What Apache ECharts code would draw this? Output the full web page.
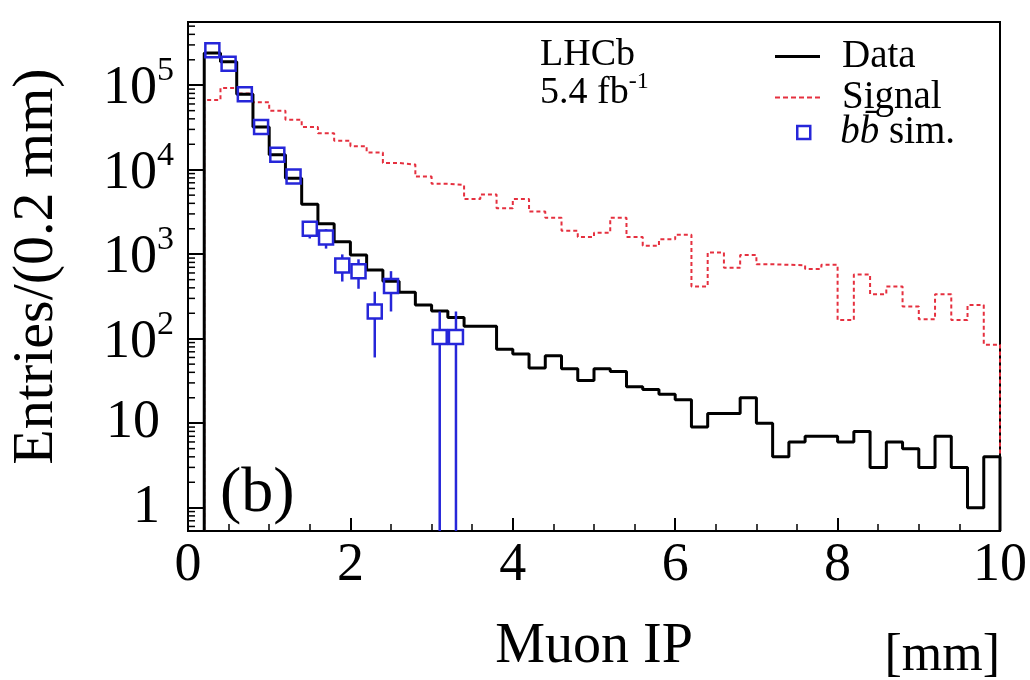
<!DOCTYPE html>
<html><head><meta charset="utf-8">
<script src="https://cdn.jsdelivr.net/npm/echarts@6/dist/echarts.min.js"></script>
<style>html,body{margin:0;padding:0;background:#fff}#c{width:1030px;height:680px}</style>
</head><body><div id="c"></div>
<script>
// ---- binning ----
const firstEdge = 0.2;
const binWidth = 0.2;
const lastEdge = 10;

// ---- data histogram (Entries per 0.2 mm), bins starting at 0.2 mm ----
const dataCounts = [
  240000, 190000, 78000, 32000, 15000, 7900, 3900, 2300, 1400, 980,
  650, 480, 355, 250, 213, 178, 140, 140, 75, 66,
  45, 63, 44, 32, 44, 41, 27, 25, 22, 19,
  9, 13, 13, 20, 10, 4, 6, 7, 7, 6,
  8, 3, 6, 5, 3, 7, 3, 1, 4
];

// ---- signal histogram (red dotted) ----
const signalCounts = [
  67000, 93000, 80000, 63000, 50000, 39000, 32000, 27000, 22000, 19000,
  16000, 12000, 11500, 8300, 6800, 6600, 4500, 5100, 3500, 4500,
  3200, 2700, 1900, 1600, 1800, 2700, 1600, 1260, 1500, 1700,
  415, 1050, 690, 980, 760, 750, 740, 670, 750, 166,
  575, 337, 415, 240, 170, 337, 166, 250, 85
];

// ---- bb sim. points ----
const simX   = [0.3, 0.5, 0.7, 0.9, 1.1, 1.3, 1.5, 1.7, 1.9, 2.1, 2.3, 2.5, 3.1, 3.3];
const simY   = [260000, 180000, 78000, 32000, 15000, 8300, 1995, 1575, 735, 630, 210, 420, 105, 105];
const simErr = [5200, 4300, 2900, 1800, 1250, 930, 460, 410, 260, 240, 150, 210, 105, 105];

// ---- axes ----
const xMin = 0, xMax = 10, xStep = 2;
const xTickLabels = ['0', '2', '4', '6', '8', '10'];
const yMin = 0.53, yMax = 560000;
const yTickValues = [1, 10, 100, 1000, 10000, 100000];
const yTickLabels = ['{p|1}', '{p|10}', '{n|10}{s|2}', '{n|10}{s|3}', '{n|10}{s|4}', '{n|10}{s|5}'];
const yMinorTicks = [0.6, 0.7, 0.8, 0.9,
  2, 3, 4, 5, 6, 7, 8, 9,
  20, 30, 40, 50, 60, 70, 80, 90,
  200, 300, 400, 500, 600, 700, 800, 900,
  2000, 3000, 4000, 5000, 6000, 7000, 8000, 9000,
  20000, 30000, 40000, 50000, 60000, 70000, 80000, 90000,
  200000, 300000, 400000, 500000];

const FONT = '"Liberation Serif", "DejaVu Serif", serif';
const BLUE = '#2626d9';
const RED = '#e5303f';
const DASH_ICON = 'path://M0,0h5v2h-5z M8,0h5v2h-5z M16,0h5v2h-5z M24,0h5v2h-5z M32,0h5v2h-5z M40,0h5v2h-5z';

function stepPoints(vals) {
  const pts = [[firstEdge, yMin]];
  for (let i = 0; i < vals.length; i++) {
    const lo = +(firstEdge + i * binWidth).toFixed(4);
    const hi = +(firstEdge + (i + 1) * binWidth).toFixed(4);
    pts.push([lo, vals[i]], [hi, vals[i]]);
  }
  pts.push([lastEdge, yMin]);
  return pts;
}

const simRows = simX.map((x, i) => [x, simY[i], simErr[i]]);

const chart = echarts.init(document.getElementById('c'), null, {renderer: 'canvas'});
chart.setOption({
  animation: false,
  backgroundColor: '#fff',
  grid: {left: 178, right: 24, top: 22, bottom: 112, show: true, borderColor: '#000', borderWidth: 2, backgroundColor: 'transparent'},
  legend: [{
    orient: 'vertical', left: 770, top: 32, itemWidth: 45, itemHeight: 3, itemGap: 2,
    selectedMode: false,
    textStyle: {fontFamily: FONT, fontSize: 39, color: '#000', padding: [0, 0, 0, 17], lineHeight: 36},
    data: [
      {name: 'Data', icon: 'rect', itemStyle: {color: '#000'}},
      {name: 'Signal', icon: DASH_ICON, itemStyle: {color: RED}}
    ]
  }, {
    orient: 'vertical', left: 791, top: 108, itemWidth: 13, itemHeight: 13,
    selectedMode: false,
    textStyle: {fontFamily: FONT, fontSize: 39, color: '#000', padding: [0, 0, 0, 25],
      rich: {i: {fontFamily: FONT, fontSize: 39, fontStyle: 'italic', color: '#000', lineHeight: 36},
             t: {fontFamily: FONT, fontSize: 39, color: '#000', lineHeight: 36}}},
    formatter: () => '{i|bb\u0304}{t| sim.}',
    data: [{name: 'bbsim', icon: 'path://M0,0H10V10H0Z', itemStyle: {color: 'transparent', borderColor: BLUE, borderWidth: 2.5}}]
  }],
  xAxis: {
    type: 'value', min: xMin, max: xMax, interval: xStep,
    axisLine: {show: true, lineStyle: {color: '#000', width: 2}},
    axisTick: {show: true, inside: true, length: 13, lineStyle: {color: '#000', width: 2}},
    minorTick: {show: true, splitNumber: 4, length: 7, lineStyle: {color: '#000', width: 1.5}},
    splitLine: {show: false},
    axisLabel: {fontFamily: FONT, fontSize: 54, color: '#000', margin: 8,
      formatter: v => xTickLabels[Math.round((v - xMin) / xStep)] || ''},
    name: 'Muon IP', nameLocation: 'middle', nameGap: 88,
    nameTextStyle: {fontFamily: FONT, fontSize: 56, color: '#000'}
  },
  yAxis: {
    type: 'log', logBase: 10, min: yMin, max: yMax,
    axisLine: {show: true, lineStyle: {color: '#000', width: 2}},
    axisTick: {show: true, inside: true, length: 15, lineStyle: {color: '#000', width: 2}},
    splitLine: {show: false},
    axisLabel: {
      margin: 14, color: '#000',
      formatter: v => {
        const k = yTickValues.findIndex(t => Math.abs(Math.log10(t) - Math.log10(v)) < 1e-6);
        return k >= 0 ? yTickLabels[k] : '';
      },
      rich: {
        n: {fontFamily: FONT, fontSize: 54, color: '#000', lineHeight: 62, verticalAlign: 'bottom'},
        p: {fontFamily: FONT, fontSize: 54, color: '#000', lineHeight: 62, padding: [0, 14, 0, 0]},
        s: {fontFamily: FONT, fontSize: 34, color: '#000', verticalAlign: 'top', lineHeight: 34}
      }
    },
    name: 'Entries/(0.2 mm)', nameLocation: 'middle', nameGap: 122, nameRotate: 90,
    nameTextStyle: {fontFamily: FONT, fontSize: 58, color: '#000', padding: [0, 0, 0, 20]}
  },
  graphic: [
    {type: 'text', left: 540, top: 36, style: {text: 'LHCb', font: '38px ' + FONT, fill: '#000'}},
    {type: 'text', left: 540, top: 70, style: {
      text: '{a|5.4 fb}{s|-1}', rich: {
        a: {fontFamily: FONT, fontSize: 38, fill: '#000', lineHeight: 42, verticalAlign: 'bottom'},
        s: {fontFamily: FONT, fontSize: 24, fill: '#000', verticalAlign: 'top', lineHeight: 24}}}},
    {type: 'text', left: 220, top: 462, style: {text: '(b)', font: '64px ' + FONT, fill: '#000'}},
    {type: 'text', right: 30, top: 630, style: {text: '[mm]', font: '52px ' + FONT, fill: '#000'}}
  ],
  series: [
    {
      name: 'Signal', type: 'line', data: stepPoints(signalCounts), symbol: 'none', showSymbol: false,
      lineStyle: {color: RED, width: 2, type: [4, 3]}, itemStyle: {color: RED}, z: 3
    },
    {
      name: 'Data', type: 'line', data: stepPoints(dataCounts), symbol: 'none', showSymbol: false,
      lineStyle: {color: '#000', width: 3}, itemStyle: {color: '#000'}, z: 4
    },
    {
      name: 'minorY', type: 'custom', silent: true, z: 2,
      data: yMinorTicks.map(v => [xMin, v]),
      renderItem: (params, api) => {
        const p = api.coord([api.value(0), api.value(1)]);
        return {type: 'line', shape: {x1: p[0], y1: p[1], x2: p[0] + 7, y2: p[1]}, style: {stroke: '#000', lineWidth: 1.5}};
      }
    },
    {
      name: 'bbsim', type: 'custom', z: 5,
      itemStyle: {color: BLUE},
      data: simRows,
      encode: {x: 0, y: 1},
      renderItem: (params, api) => {
        const x = api.value(0), y = api.value(1), e = api.value(2);
        const c = api.coord([x, y]);
        const lo = Math.max(y - e, yMin);
        const pLo = api.coord([x, lo]);
        const pHi = api.coord([x, y + e]);
        const h = 7;
        const kids = [];
        if (pHi[1] < c[1] - h) kids.push({type: 'line', shape: {x1: c[0], y1: c[1] - h, x2: c[0], y2: pHi[1]}, style: {stroke: BLUE, lineWidth: 2.5}});
        if (pLo[1] > c[1] + h) kids.push({type: 'line', shape: {x1: c[0], y1: c[1] + h, x2: c[0], y2: pLo[1]}, style: {stroke: BLUE, lineWidth: 2.5}});
        kids.push({type: 'rect', shape: {x: c[0] - h, y: c[1] - h, width: 2 * h, height: 2 * h}, style: {fill: 'none', stroke: BLUE, lineWidth: 2.5}});
        return {type: 'group', children: kids};
      }
    }
  ]
});
</script></body></html>
